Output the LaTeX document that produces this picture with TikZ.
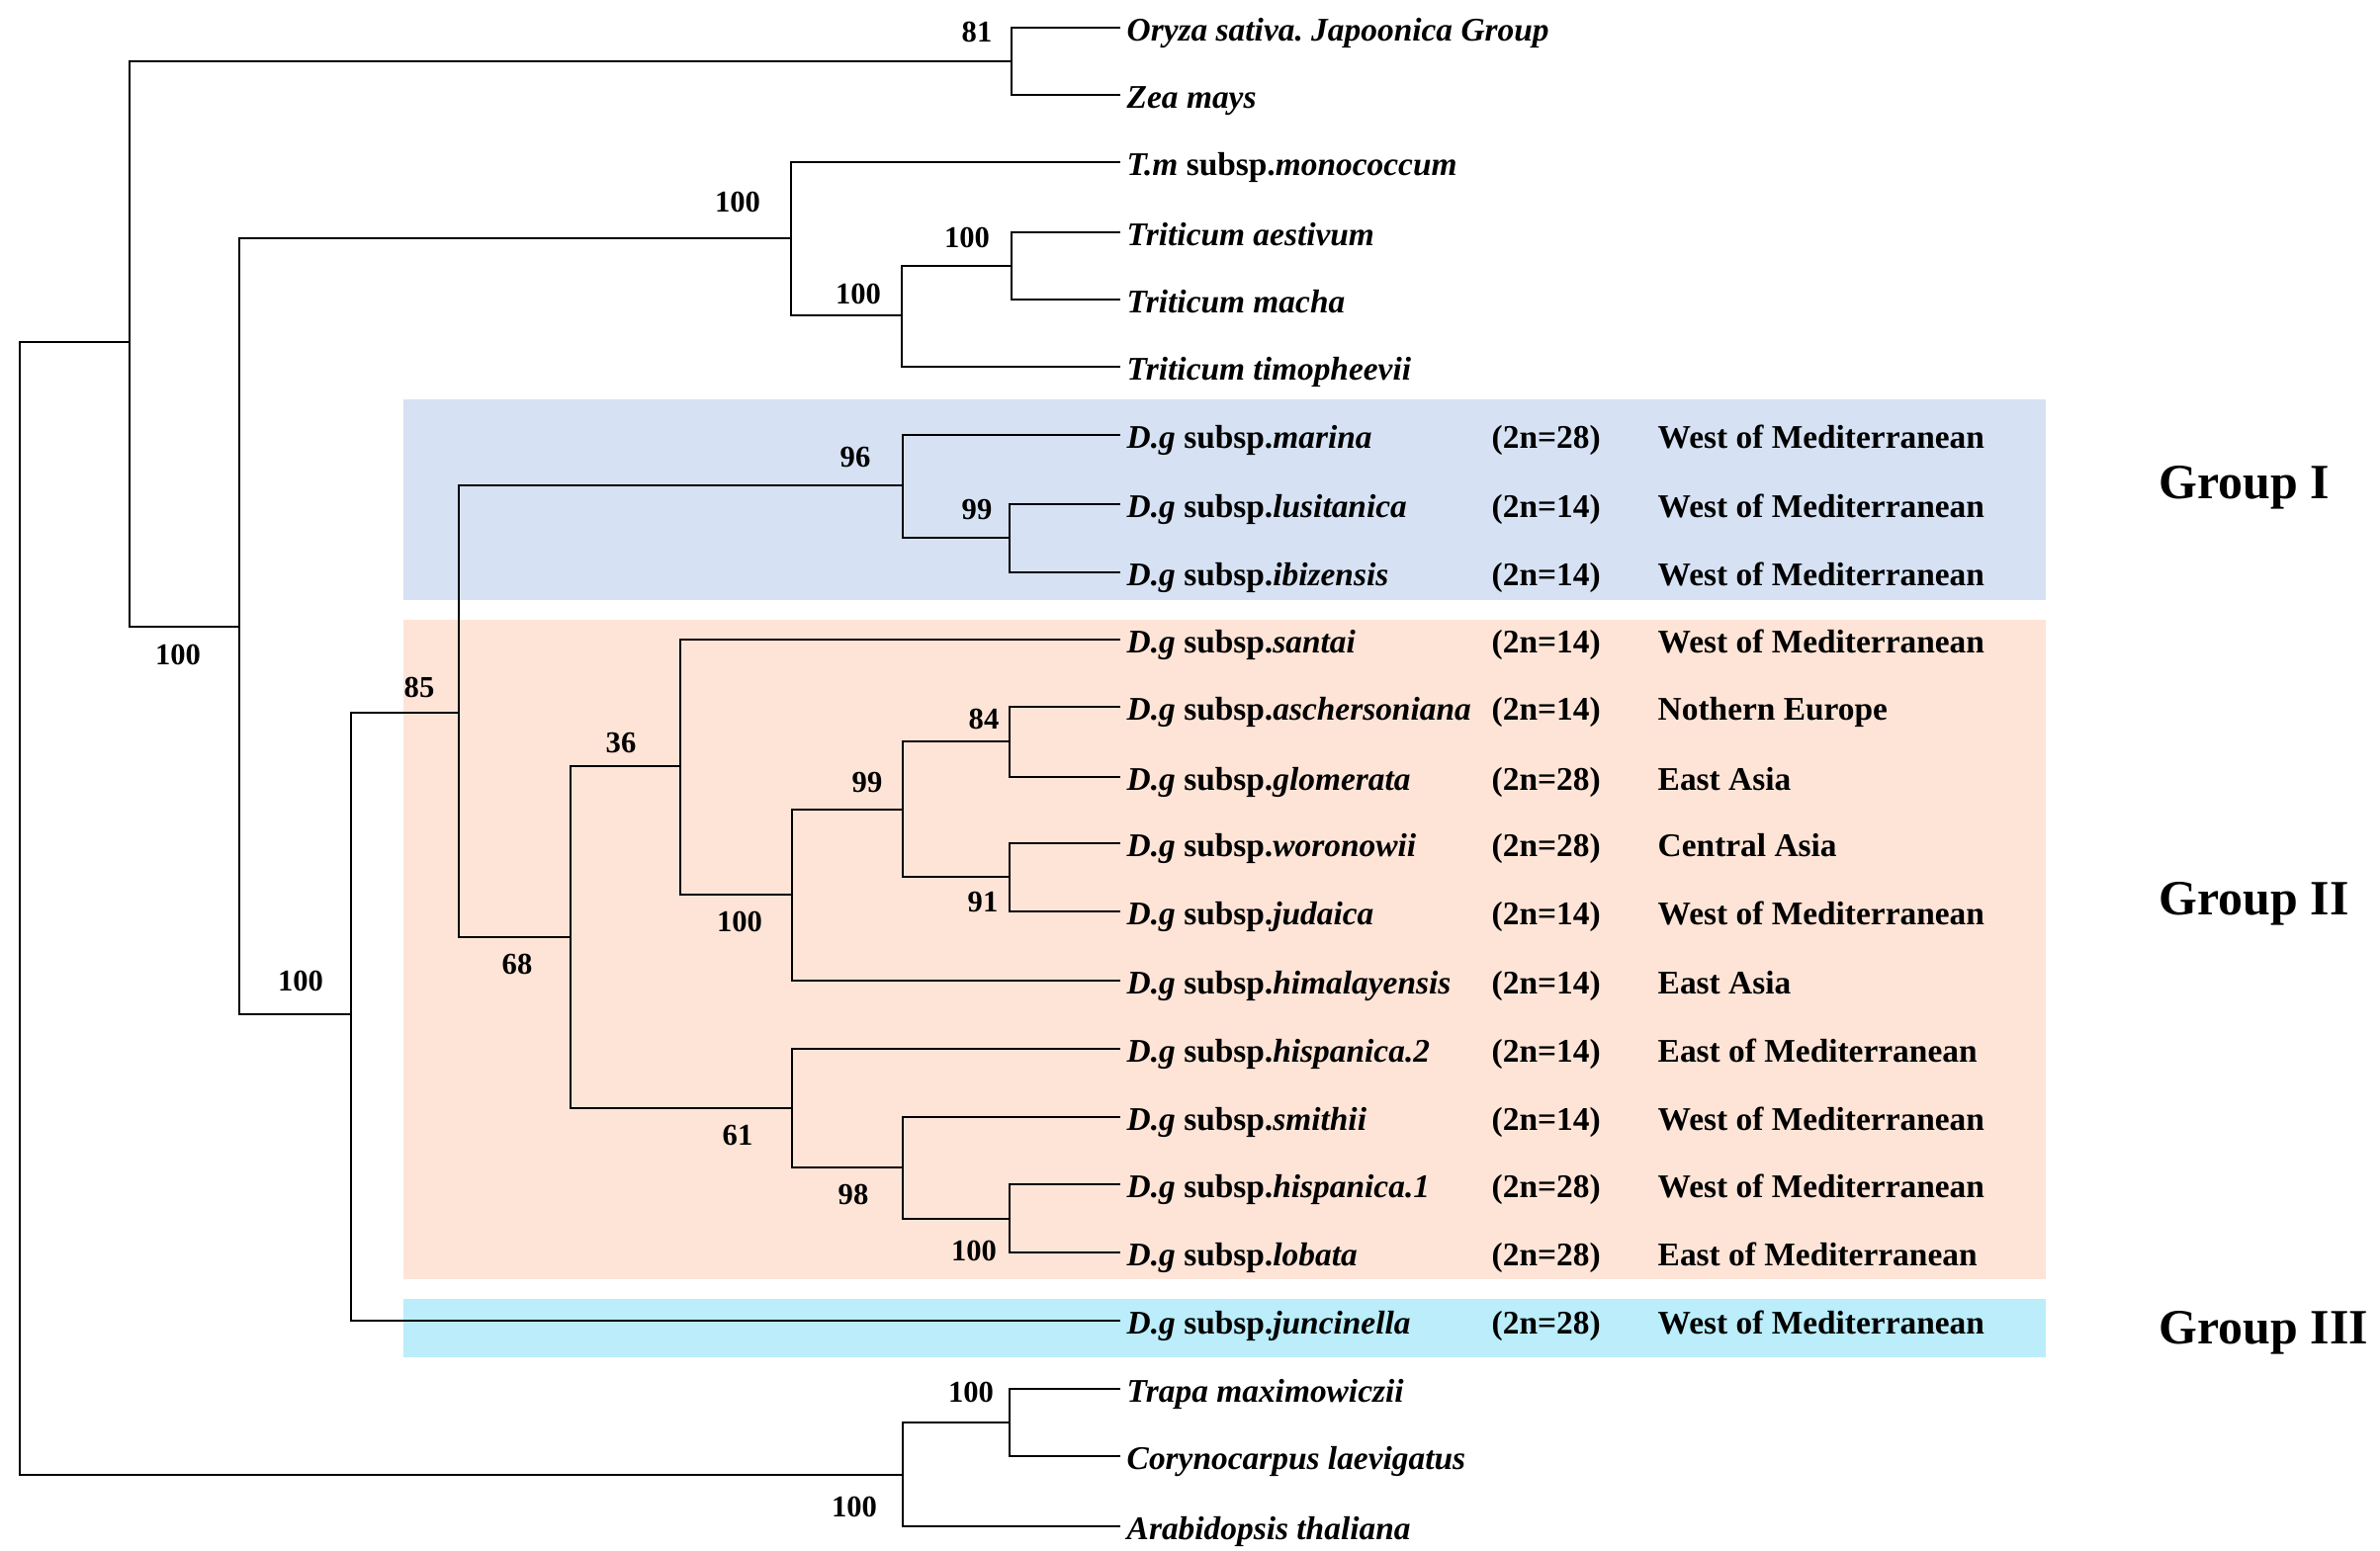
\documentclass[tikz,border=0pt]{standalone}
\usepackage{fontspec}
\setmainfont{Liberation Serif}
\usetikzlibrary{positioning}
\definecolor{grpone}{HTML}{D6E2F3}
\definecolor{grptwo}{HTML}{FDE4D7}
\definecolor{grpthree}{HTML}{BBEDFA}
\frenchspacing

\begin{document}
\begin{tikzpicture}[x=0.01cm, y=-0.01cm,
    branch/.style={black, line width=0.75pt},
    taxon/.style={anchor=base west, inner sep=0pt, xshift=0.06cm, yshift=-0.13cm,
        font=\fontsize{9.5pt}{11pt}\selectfont\bfseries},
    boot/.style={inner sep=0pt, font=\fontsize{8.7pt}{10pt}\selectfont\bfseries},
    grp/.style={anchor=west, inner sep=0pt, font=\fontsize{14.2pt}{16pt}\selectfont\bfseries}]
    \useasboundingbox (0,0) rectangle (2407,1568);

    % group bands
    \fill[grpone] (408,404) rectangle (2069,607);
    \fill[grptwo] (408,627) rectangle (2069,1294);
    \fill[grpthree] (408,1314) rectangle (2069,1373);

    % internal nodes
    \coordinate (R) at (20,919);
    \coordinate (A) at (131,346);
    \coordinate (OZ) at (1023,62);
    \coordinate (B) at (242,634);
    \coordinate (T1) at (800,241);
    \coordinate (T2) at (912,319);
    \coordinate (T3) at (1023,269);
    \coordinate (C) at (355,1026);
    \coordinate (D) at (464,721);
    \coordinate (E) at (913,491);
    \coordinate (F) at (1021,544);
    \coordinate (G) at (577,948);
    \coordinate (H) at (688,775);
    \coordinate (I) at (801,905);
    \coordinate (J) at (913,819);
    \coordinate (K) at (1021,750);
    \coordinate (L) at (1021,887);
    \coordinate (M) at (801,1121);
    \coordinate (N) at (913,1181);
    \coordinate (O) at (1021,1233);
    \coordinate (P) at (913,1492);
    \coordinate (Q) at (1021,1439);

    % outgroup and Triticum tips
    \coordinate (oryza) at (1133,28);
    \coordinate (zea) at (1133,96);
    \coordinate (mono) at (1133,164);
    \coordinate (aest) at (1133,235);
    \coordinate (macha) at (1133,303);
    \coordinate (timo) at (1133,371);
    \coordinate (trapa) at (1133,1405);
    \coordinate (coryno) at (1133,1473);
    \coordinate (arabi) at (1133,1544);
    \node[taxon] (oryza-name) at (oryza) {\textit{Oryza sativa. Japoonica Group}};
    \node[taxon] (zea-name) at (zea) {\textit{Zea mays}};
    \node[taxon] (mono-name) at (mono) {\textit{T.m} subsp.\textit{monococcum}};
    \node[taxon] (aest-name) at (aest) {\textit{Triticum aestivum}};
    \node[taxon] (macha-name) at (macha) {\textit{Triticum macha}};
    \node[taxon] (timo-name) at (timo) {\textit{Triticum timopheevii}};
    \node[taxon] (trapa-name) at (trapa) {\textit{Trapa maximowiczii}};
    \node[taxon] (coryno-name) at (coryno) {\textit{Corynocarpus laevigatus}};
    \node[taxon] (arabi-name) at (arabi) {\textit{Arabidopsis thaliana}};

    % Dactylis tips
    \foreach \tip/\yy/\ep/\cn/\reg in {
        marina/440/marina/28/West of Mediterranean,
        lusit/510/lusitanica/14/West of Mediterranean,
        ibiz/579/ibizensis/14/West of Mediterranean,
        santai/647/santai/14/West of Mediterranean,
        asch/715/aschersoniana/14/Nothern Europe,
        glom/786/glomerata/28/East Asia,
        woro/853/woronowii/28/Central Asia,
        juda/922/judaica/14/West of Mediterranean,
        hima/992/himalayensis/14/East Asia,
        hispb/1061/hispanica.2/14/East of Mediterranean,
        smith/1130/smithii/14/West of Mediterranean,
        hispa/1198/hispanica.1/28/West of Mediterranean,
        lobata/1267/lobata/28/East of Mediterranean,
        junc/1336/juncinella/28/West of Mediterranean}{
        \coordinate (\tip) at (1133,\yy);
        \node[taxon] (\tip-name) at (\tip) {\textit{D.g} subsp.\textit{\ep}};
        \node[taxon] (\tip-cn) at (1502,\yy) {(2n=\cn)};
        \node[taxon] (\tip-reg) at (1670,\yy) {\reg};
    }

    % branches
    \draw[branch] (R) |- (A) (R) |- (P);
    \draw[branch] (A) |- (OZ) (A) |- (B);
    \draw[branch] (OZ) |- (oryza) (OZ) |- (zea);
    \draw[branch] (B) |- (T1) (B) |- (C);
    \draw[branch] (T1) |- (mono) (T1) |- (T2);
    \draw[branch] (T2) |- (T3) (T2) |- (timo);
    \draw[branch] (T3) |- (aest) (T3) |- (macha);
    \draw[branch] (C) |- (D) (C) |- (junc);
    \draw[branch] (D) |- (E) (D) |- (G);
    \draw[branch] (E) |- (marina) (E) |- (F);
    \draw[branch] (F) |- (lusit) (F) |- (ibiz);
    \draw[branch] (G) |- (H) (G) |- (M);
    \draw[branch] (H) |- (santai) (H) |- (I);
    \draw[branch] (I) |- (J) (I) |- (hima);
    \draw[branch] (J) |- (K) (J) |- (L);
    \draw[branch] (K) |- (asch) (K) |- (glom);
    \draw[branch] (L) |- (woro) (L) |- (juda);
    \draw[branch] (M) |- (hispb) (M) |- (N);
    \draw[branch] (N) |- (smith) (N) |- (O);
    \draw[branch] (O) |- (hispa) (O) |- (lobata);
    \draw[branch] (P) |- (Q) (P) |- (arabi);
    \draw[branch] (Q) |- (trapa) (Q) |- (coryno);

    % bootstrap values
    \node[boot] (bOZ) at (988,32) {81};
    \node[boot] (bT3) at (978,240) {100};
    \node[boot] (bT2) at (868,297) {100};
    \node[boot] (bT1) at (746,204) {100};
    \node[boot] (bB) at (180,662) {100};
    \node[boot] (bC) at (304,992) {100};
    \node[boot] (bD) at (424,695) {85};
    \node[boot] (bE) at (865,462) {96};
    \node[boot] (bF) at (988,515) {99};
    \node[boot] (bH) at (628,751) {36};
    \node[boot] (bG) at (523,975) {68};
    \node[boot] (bI) at (748,932) {100};
    \node[boot] (bJ) at (877,791) {99};
    \node[boot] (bK) at (995,727) {84};
    \node[boot] (bL) at (994,912) {91};
    \node[boot] (bM) at (746,1148) {61};
    \node[boot] (bN) at (863,1208) {98};
    \node[boot] (bO) at (985,1265) {100};
    \node[boot] (bQ) at (982,1408) {100};
    \node[boot] (bP) at (864,1524) {100};

    % group names
    \node[grp] (g1) at (2183,493) {Group I};
    \node[grp] (g2) at (2183,914) {Group II};
    \node[grp] (g3) at (2183,1348) {Group III};
\end{tikzpicture}
\end{document}
